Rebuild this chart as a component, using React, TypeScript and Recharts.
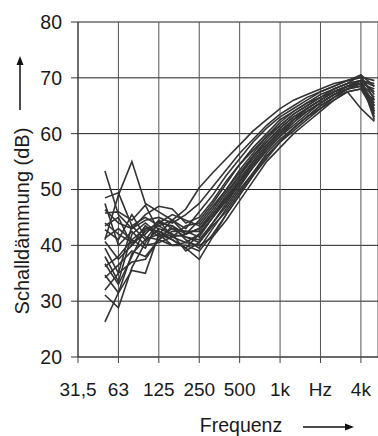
import { CartesianGrid, Line, LineChart, XAxis, YAxis } from "recharts";

// third-octave bands, 50 Hz .. 5 kHz
const bands = [50, 63, 80, 100, 125, 160, 200, 250, 315, 400, 500, 630, 800, 1000, 1250, 1600, 2000, 2500, 3150, 4000, 5000];
// position on the axis in third-octave steps above 31,5 Hz
const bandStep = [2, 3, 4, 5, 6, 7, 8, 9, 10, 11, 12, 13, 14, 15, 16, 17, 18, 19, 20, 21, 22];

const tickSteps = [0, 3, 6, 9, 12, 15, 18, 21];
const tickLabels = ["31,5", "63", "125", "250", "500", "1k", "Hz", "4k"];
const yTicks = [20, 30, 40, 50, 60, 70, 80];
const yMinor = [22, 24, 26, 28, 32, 34, 36, 38, 42, 44, 46, 48, 52, 54, 56, 58, 62, 64, 66, 68, 72, 74, 76, 78];

const s1 = [53.3, 45.5, 43.0, 44.5, 45.0, 44.0, 45.5, 47.5, 50.5, 53.5, 56.5, 59.0, 61.5, 63.5, 65.0, 66.5, 67.5, 68.5, 69.5, 70.0, 67.0];
const s2 = [48.5, 49.4, 43.5, 41.0, 44.0, 43.5, 42.0, 44.5, 47.5, 51.0, 54.5, 57.5, 60.0, 62.5, 64.0, 65.5, 66.5, 68.0, 69.0, 70.5, 66.0];
const s3 = [41.0, 49.0, 55.0, 47.5, 46.0, 44.5, 43.0, 46.0, 49.0, 52.5, 55.5, 58.5, 61.0, 63.0, 64.5, 66.0, 67.5, 68.5, 69.5, 70.2, 69.5];
const s4 = [46.4, 44.0, 43.0, 45.5, 47.0, 46.5, 44.0, 45.0, 48.0, 51.5, 54.5, 57.0, 59.5, 61.5, 63.5, 65.0, 66.5, 68.0, 69.0, 69.5, 68.5];
const s5 = [45.8, 46.0, 44.5, 47.2, 42.5, 41.0, 39.5, 42.0, 45.0, 48.0, 51.5, 55.0, 58.0, 60.5, 62.5, 64.5, 66.0, 67.5, 68.5, 69.5, 64.0];
const s6 = [42.8, 41.0, 45.5, 41.5, 41.0, 42.5, 42.5, 42.5, 45.5, 49.0, 52.5, 55.5, 58.5, 61.0, 63.0, 64.5, 66.0, 67.5, 68.5, 69.0, 66.5];
const s7 = [41.3, 43.0, 41.0, 43.0, 43.5, 42.0, 39.0, 40.5, 44.0, 47.5, 51.0, 54.5, 57.5, 60.0, 62.0, 64.0, 65.5, 67.0, 68.0, 68.5, 65.0];
const s8 = [40.7, 37.5, 40.0, 42.5, 44.0, 45.5, 44.5, 43.5, 46.5, 50.0, 53.5, 56.5, 59.5, 62.0, 64.0, 65.5, 67.0, 68.0, 69.0, 69.5, 67.5];
const s9 = [36.7, 33.0, 38.0, 43.0, 42.5, 41.5, 40.5, 42.0, 45.0, 48.5, 52.0, 55.0, 58.0, 60.5, 62.5, 64.5, 66.0, 67.5, 68.5, 69.0, 63.5];
const s10 = [36.2, 38.0, 41.0, 39.5, 44.5, 43.0, 41.5, 41.0, 44.0, 47.0, 50.5, 54.0, 57.0, 59.5, 62.0, 64.0, 65.5, 67.0, 68.0, 68.5, 64.5];
const s11 = [34.7, 31.5, 35.5, 35.0, 42.0, 41.0, 39.5, 37.5, 41.5, 45.5, 49.0, 52.5, 55.5, 58.5, 61.0, 63.0, 65.0, 66.5, 68.0, 69.0, 68.0];
const s12 = [34.2, 36.5, 39.0, 38.0, 41.0, 43.5, 41.0, 39.5, 43.0, 46.5, 50.0, 53.0, 56.0, 58.5, 60.5, 62.5, 64.5, 66.0, 67.5, 68.0, 66.0];
const s13 = [32.0, 35.0, 37.0, 37.5, 41.0, 40.0, 40.5, 40.0, 41.5, 44.5, 48.0, 51.5, 55.0, 57.5, 60.0, 62.0, 64.0, 66.0, 67.5, 64.5, 62.2];
const s14 = [31.1, 28.8, 36.0, 40.5, 43.0, 42.0, 41.5, 40.5, 43.5, 46.0, 49.5, 53.0, 56.5, 59.0, 61.0, 63.0, 64.5, 66.5, 68.0, 69.5, 63.0];
const s15 = [26.3, 31.5, 38.5, 41.0, 42.0, 44.5, 42.0, 43.0, 46.0, 49.5, 52.5, 56.0, 58.5, 61.0, 63.0, 64.5, 66.0, 67.5, 68.5, 69.0, 65.5];
const s16 = [44.0, 42.0, 40.5, 42.0, 44.5, 41.5, 43.5, 44.0, 47.0, 50.0, 53.0, 56.0, 59.0, 61.5, 63.5, 65.0, 66.5, 67.5, 68.5, 69.5, 69.0];
const s17 = [38.0, 33.5, 42.0, 44.0, 42.0, 40.0, 40.0, 39.0, 42.0, 45.5, 49.0, 52.5, 56.0, 58.5, 61.0, 63.0, 65.0, 66.5, 67.5, 68.0, 64.0];
const s18 = [43.5, 45.0, 40.0, 43.5, 41.5, 43.0, 42.5, 41.5, 45.0, 48.0, 51.0, 54.0, 57.0, 59.5, 61.5, 63.5, 65.5, 67.0, 68.5, 69.5, 62.5];
const s19 = [39.5, 35.0, 43.5, 45.0, 43.5, 44.5, 46.5, 50.3, 53.0, 55.5, 58.0, 60.5, 62.5, 64.5, 66.0, 67.0, 68.0, 69.0, 69.5, 70.5, 68.5];
const s20 = [47.5, 40.0, 42.5, 40.0, 40.5, 41.5, 42.0, 43.0, 45.5, 48.5, 51.5, 54.5, 57.5, 60.0, 62.5, 64.0, 65.5, 67.0, 68.0, 69.0, 65.0];

const series = [s1, s2, s3, s4, s5, s6, s7, s8, s9, s10, s11, s12, s13, s14, s15, s16, s17, s18, s19, s20];

const data = bands.map((f, i) => {
  const row: Record<string, number> = { f, x: bandStep[i] };
  series.forEach((s, k) => {
    row[`s${k}`] = s[i];
  });
  return row;
});

const font = "'Liberation Sans', Arial, sans-serif";

export default function App() {
  return (
    <div style={{ position: "absolute", left: 0, top: 0, width: 378, height: 436, background: "#fff", fontFamily: font, overflow: "hidden" }}>
      <LineChart width={378} height={436} data={data} margin={{ top: 22, right: 0, bottom: 39, left: 0 }}>
        <CartesianGrid horizontal vertical={false} stroke="#1e1e1e" strokeWidth={1} />
        <CartesianGrid horizontal={false} vertical stroke="#555" strokeWidth={1} />
        <XAxis
          dataKey="x"
          type="number"
          domain={[0, 22.27]}
          allowDataOverflow
          ticks={tickSteps}
          tickFormatter={(v) => tickLabels[tickSteps.indexOf(v)] ?? ""}
          tick={{ fill: "#1a1a1a", fontSize: 19, fontFamily: font }}
          tickSize={6}
          tickMargin={20}
          height={40}
          stroke="#444"
        />
        <YAxis
          type="number"
          domain={[20, 80]}
          ticks={yTicks}
          tick={{ fill: "#1a1a1a", fontSize: 19.5, fontFamily: font }}
          tickSize={7}
          tickMargin={9}
          width={78}
          stroke="#333"
        />
        <YAxis
          yAxisId="minor"
          type="number"
          domain={[20, 80]}
          ticks={yMinor}
          tick={false}
          tickSize={5}
          axisLine={false}
          mirror
          stroke="#333"
        />
        {series.map((_, k) => (
          <Line
            key={k}
            dataKey={`s${k}`}
            type="linear"
            stroke="#333"
            strokeWidth={1.6}
            dot={false}
            isAnimationActive={false}
          />
        ))}
      </LineChart>

      <div
        style={{
          position: "absolute",
          left: 22,
          top: 221,
          transform: "translate(-50%, -50%) rotate(-90deg)",
          fontSize: 20,
          color: "#1a1a1a",
          whiteSpace: "nowrap",
        }}
      >
        Schalldämmung (dB)
      </div>
      <svg style={{ position: "absolute", left: 0, top: 0 }} width={378} height={436}>
        <line x1={20} y1={110} x2={20} y2={63} stroke="#111" strokeWidth={1.5} />
        <polygon points="20,56 16.5,65 23.5,65" fill="#111" />
        <line x1={303} y1={427} x2={346} y2={427} stroke="#111" strokeWidth={1.5} />
        <polygon points="354,427 345,423.5 345,430.5" fill="#111" />
      </svg>
      <div
        style={{
          position: "absolute",
          left: 241,
          top: 425,
          transform: "translate(-50%, -50%)",
          fontSize: 19.5,
          lineHeight: "20px",
          color: "#1a1a1a",
          whiteSpace: "nowrap",
        }}
      >
        Frequenz
      </div>
    </div>
  );
}
